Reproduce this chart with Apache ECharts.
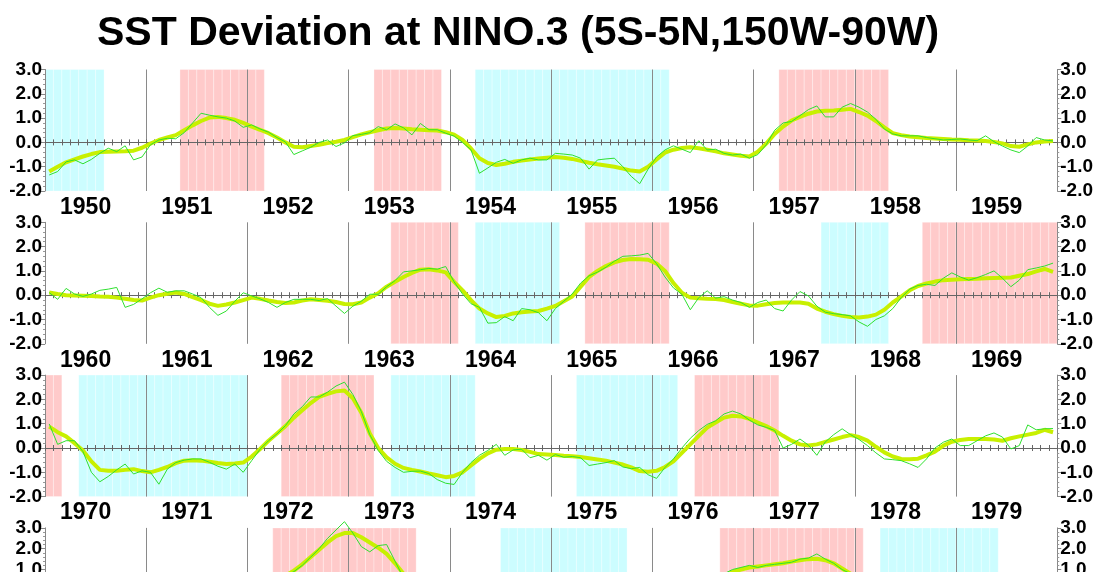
<!DOCTYPE html>
<html>
<head>
<meta charset="utf-8">
<script src="https://cdn.jsdelivr.net/npm/echarts@6/dist/echarts.min.js"></script>
<style>
  html, body { margin: 0; background: #fff; overflow: hidden; }
  #chart { width: 1096px; height: 660px; }
</style>
</head>
<body>
<div id="chart"></div>
<script>
// monthly NINO.3 SST deviation, one row = one year
const sst1950s = [
  -1.34, -1.2, -0.8, -0.72, -0.88, -0.7, -0.45, -0.24, -0.38, -0.14, -0.72, -0.6,
  -0.1, 0.1, 0.17, 0.15, 0.4, 0.8, 1.2, 1.12, 1.05, 1.0, 0.88, 0.62,
  0.72, 0.55, 0.42, 0.2, 0.02, -0.5, -0.35, -0.2, 0.0, 0.1, -0.17, -0.02,
  0.28, 0.33, 0.4, 0.65, 0.52, 0.76, 0.6, 0.31, 0.78, 0.52, 0.52, 0.38,
  0.26, 0.0, -0.3, -1.27, -1.05, -0.82, -0.7, -0.86, -0.72, -0.65, -0.72, -0.72,
  -0.45, -0.48, -0.52, -0.65, -1.1, -0.72, -0.68, -0.65, -1.0, -1.4, -1.7, -1.1,
  -0.6, -0.31, -0.14, -0.28, -0.42, 0.07, -0.31, -0.28, -0.45, -0.52, -0.48, -0.65,
  -0.5, -0.1, 0.5, 0.8, 0.86, 1.1, 1.35, 1.5, 1.05, 1.05, 1.45, 1.6,
  1.45, 1.25, 0.95, 0.55, 0.35, 0.27, 0.27, 0.27, 0.2, 0.15, 0.1, 0.12,
  0.14, 0.1, 0.07, 0.27, 0.03, -0.15, -0.31, -0.42, -0.15, 0.2, 0.1, 0.06
];
const smooth1950s = [
  -1.2, -1.0, -0.82, -0.7, -0.58, -0.48, -0.4, -0.38, -0.37, -0.36, -0.34, -0.22,
  -0.05, 0.1, 0.2, 0.3, 0.5, 0.7, 0.88, 1.02, 1.05, 1.0, 0.93, 0.8,
  0.65, 0.52, 0.38, 0.2, 0.0, -0.18, -0.2, -0.15, -0.1, -0.03, 0.03, 0.1,
  0.22, 0.33, 0.42, 0.5, 0.57, 0.59, 0.57, 0.54, 0.52, 0.5, 0.49, 0.42,
  0.32, 0.1, -0.25, -0.65, -0.85, -0.93, -0.88, -0.8, -0.75, -0.7, -0.66, -0.63,
  -0.6, -0.63, -0.68, -0.76, -0.84, -0.9, -0.95, -1.0, -1.08, -1.16, -1.2, -1.0,
  -0.7, -0.42, -0.3, -0.23, -0.2, -0.24, -0.3, -0.37, -0.45, -0.5, -0.55, -0.58,
  -0.38, -0.05, 0.35, 0.65, 0.9, 1.05, 1.18, 1.27, 1.3, 1.31, 1.34, 1.38,
  1.25, 1.1, 0.88, 0.62, 0.38, 0.3, 0.24, 0.21, 0.18, 0.16, 0.14, 0.12,
  0.11, 0.09, 0.08, 0.06, 0.02, -0.04, -0.15, -0.18, -0.08, 0.0, 0.04, 0.06
];
const sst1960s = [
  0.11, -0.17, 0.28, 0.05, -0.05, 0.05, 0.2, 0.25, 0.32, -0.5, -0.38, -0.15,
  0.1, 0.29, 0.12, 0.18, 0.18, 0.05, -0.1, -0.5, -0.83, -0.65, -0.25, 0.1,
  -0.03, -0.15, -0.3, -0.5, -0.3, -0.17, -0.17, -0.17, -0.22, -0.14, -0.45, -0.75,
  -0.45, -0.25, 0.04, 0.04, 0.35, 0.6, 0.96, 1.0, 1.05, 1.1, 1.07, 1.18,
  0.55, 0.05, -0.35, -0.5, -1.15, -1.13, -0.88, -1.05, -0.55, -0.6, -0.72, -1.05,
  -0.55, -0.25, 0.05, 0.5, 0.8, 0.95, 1.15, 1.4, 1.6, 1.62, 1.65, 1.72,
  1.3, 0.75, 0.3, 0.04, -0.6, -0.1, 0.18, -0.12, -0.06, -0.2, -0.3, -0.5,
  -0.3, -0.2, -0.55, -0.65, -0.2, 0.15, -0.03, -0.45, -0.7, -0.76, -0.8, -0.85,
  -1.1, -1.28, -1.0, -0.85, -0.55, -0.1, 0.25, 0.4, 0.45, 0.4, 0.7, 0.92,
  0.75, 0.62, 0.72, 0.85, 1.0, 0.7, 0.35, 0.62, 1.05, 1.12, 1.2, 1.32
];
const smooth1960s = [
  0.11, 0.05, 0.0, -0.01, -0.02, -0.03, -0.05, -0.06, -0.1, -0.15, -0.2, -0.22,
  -0.1, 0.0, 0.06, 0.11, 0.05, -0.08, -0.2, -0.35, -0.44, -0.38, -0.3, -0.2,
  -0.1, -0.15, -0.22, -0.28, -0.32, -0.3, -0.22, -0.17, -0.2, -0.23, -0.28, -0.36,
  -0.37, -0.3, -0.1, 0.08, 0.35, 0.55, 0.75, 0.92, 1.05, 1.07, 1.02, 0.94,
  0.55, 0.2, -0.2, -0.55, -0.75, -0.9, -0.85, -0.75, -0.7, -0.67, -0.65, -0.55,
  -0.44, -0.25, -0.05, 0.35, 0.75, 1.0, 1.2, 1.35, 1.45, 1.49, 1.48, 1.46,
  1.3, 1.0, 0.5, 0.1, -0.1, -0.13, -0.15, -0.16, -0.2, -0.28, -0.35, -0.42,
  -0.43, -0.37, -0.32, -0.3, -0.3, -0.3, -0.35, -0.55, -0.68, -0.78, -0.85, -0.9,
  -0.92, -0.88, -0.8, -0.6, -0.3, -0.06, 0.2, 0.38, 0.48, 0.56, 0.62, 0.64,
  0.66, 0.67, 0.68, 0.7, 0.71, 0.72, 0.73, 0.8, 0.87, 0.98, 1.08, 0.96
];
const sst1970s = [
  0.99, 0.15, 0.3, 0.3, -0.15, -1.0, -1.39, -1.17, -0.9, -0.66, -1.07, -0.94,
  -1.0, -1.49, -0.87, -0.6, -0.5, -0.45, -0.45, -0.59, -0.75, -0.87, -0.66, -1.0,
  -0.52, -0.05, 0.3, 0.58, 0.92, 1.4, 1.7, 2.1, 2.1, 2.3, 2.55, 2.71,
  2.2, 1.5, 0.55, -0.1, -0.55, -0.8, -1.0, -0.96, -0.95, -1.05, -1.3, -1.45,
  -1.5, -1.0, -0.6, -0.3, -0.1, 0.15, -0.3, -0.08, -0.05, -0.4, -0.3, -0.5,
  -0.27, -0.38, -0.35, -0.4, -0.72, -0.66, -0.6, -0.52, -0.78, -0.85, -0.8, -1.1,
  -1.25, -0.8, -0.45, 0.0, 0.4, 0.72, 0.97, 1.12, 1.4, 1.52, 1.4, 1.15,
  0.95, 0.85, 0.72, 0.0, 0.15, 0.37, 0.12, -0.3, 0.25, 0.55, 0.79, 0.55,
  0.35, 0.1, -0.2, -0.45, -0.48, -0.52, -0.65, -0.8, -0.45, 0.0, 0.24, 0.37,
  0.1, 0.1, 0.3, 0.5, 0.62, 0.45, -0.04, 0.1, 0.95, 0.75, 0.79, 0.8
];
const smooth1970s = [
  0.88, 0.65, 0.48, 0.2, -0.1, -0.55, -0.9, -0.94, -0.94, -0.9, -0.87, -0.95,
  -1.0, -0.9, -0.78, -0.62, -0.52, -0.5, -0.52, -0.57, -0.62, -0.66, -0.64, -0.6,
  -0.35, -0.04, 0.3, 0.6, 0.9, 1.25, 1.55, 1.85, 2.1, 2.23, 2.33, 2.37,
  2.05, 1.45, 0.6, 0.0, -0.38, -0.65, -0.82, -0.9, -0.97, -1.05, -1.12, -1.2,
  -1.15, -1.0, -0.72, -0.45, -0.22, -0.07, -0.04, -0.04, -0.08, -0.16, -0.25, -0.27,
  -0.29, -0.32, -0.34, -0.37, -0.42, -0.47, -0.52, -0.6, -0.68, -0.8, -0.95, -0.98,
  -0.94, -0.78, -0.55, -0.2, 0.15, 0.5, 0.84, 1.05, 1.25, 1.33, 1.3, 1.2,
  1.05, 0.9, 0.72, 0.5, 0.3, 0.15, 0.1, 0.15, 0.25, 0.35, 0.45, 0.53,
  0.45, 0.3, 0.05, -0.18, -0.35, -0.45, -0.46, -0.44, -0.3, -0.15, 0.1, 0.26,
  0.33, 0.37, 0.37, 0.37, 0.35, 0.3, 0.4, 0.48, 0.55, 0.62, 0.75, 0.65
];
const sst1980s = [
  0.3, 0.2, 0.1, 0.2, 0.4, 0.5, 0.3, 0.1, 0.0, 0.1, 0.2, 0.1,
  -0.2, -0.4, -0.3, -0.2, -0.3, -0.4, -0.5, -0.3, -0.2, -0.1, -0.2, -0.1,
  0.0, 0.1, 0.2, 0.4, 0.7, 0.9, 1.2, 1.6, 2.0, 2.5, 2.9, 3.3,
  2.75, 2.1, 1.85, 2.15, 2.2, 1.4, 0.6, 0.2, -0.2, -0.4, -0.5, -0.6,
  -0.4, -0.2, 0.0, -0.1, -0.2, -0.3, -0.4, -0.3, -0.5, -0.8, -0.9, -1.0,
  -0.9, -0.8, -0.6, -0.7, -0.5, -0.6, -0.7, -0.5, -0.4, -0.3, -0.4, -0.2,
  -0.3, -0.2, -0.4, -0.1, 0.0, 0.2, 0.4, 0.6, 0.8, 1.0, 1.1, 1.2,
  1.1, 1.2, 1.25, 1.3, 1.35, 1.5, 1.55, 1.75, 1.5, 1.3, 1.0, 0.8,
  0.5, 0.2, -0.2, -0.6, -1.0, -1.2, -1.4, -1.3, -1.2, -1.5, -1.6, -1.5,
  -1.2, -0.9, -0.6, -0.4, -0.2, -0.3, -0.4, -0.3, -0.2, -0.1, 0.0, 0.0
];
const smooth1980s = [
  0.25, 0.22, 0.2, 0.25, 0.3, 0.32, 0.28, 0.2, 0.12, 0.1, 0.08, 0.02,
  -0.1, -0.2, -0.25, -0.28, -0.3, -0.32, -0.3, -0.25, -0.2, -0.15, -0.12, -0.08,
  0.0, 0.1, 0.25, 0.45, 0.7, 0.95, 1.25, 1.6, 1.95, 2.3, 2.6, 2.75,
  2.75, 2.55, 2.3, 2.05, 1.75, 1.3, 0.8, 0.35, 0.0, -0.25, -0.4, -0.45,
  -0.4, -0.3, -0.2, -0.18, -0.22, -0.28, -0.35, -0.45, -0.6, -0.75, -0.85, -0.88,
  -0.85, -0.78, -0.7, -0.65, -0.62, -0.6, -0.58, -0.5, -0.42, -0.35, -0.3, -0.28,
  -0.27, -0.25, -0.22, -0.15, -0.05, 0.12, 0.3, 0.5, 0.7, 0.88, 1.0, 1.1,
  1.15, 1.2, 1.25, 1.3, 1.38, 1.45, 1.5, 1.52, 1.45, 1.3, 1.05, 0.8,
  0.45, 0.1, -0.25, -0.6, -0.9, -1.15, -1.3, -1.35, -1.38, -1.45, -1.45, -1.35,
  -1.15, -0.9, -0.65, -0.45, -0.32, -0.28, -0.3, -0.28, -0.22, -0.12, -0.05, 0.0
];

// shaded periods, [first month, month after last] counted from January of the decade
const warm1950s = [[16, 26], [39, 47], [87, 100]];
const cold1950s = [[0, 7], [51, 74]];
const warm1960s = [[41, 49], [64, 74], [104, 120]];
const cold1960s = [[51, 61], [92, 100]];
const warm1970s = [[0, 2], [28, 39], [77, 87]];
const cold1970s = [[4, 24], [41, 51], [63, 75]];
const warm1980s = [[27, 44], [80, 97]];
const cold1980s = [[54, 69], [99, 113]];

const years1950s = ['1950', '1951', '1952', '1953', '1954', '1955', '1956', '1957', '1958', '1959'];
const years1960s = ['1960', '1961', '1962', '1963', '1964', '1965', '1966', '1967', '1968', '1969'];
const years1970s = ['1970', '1971', '1972', '1973', '1974', '1975', '1976', '1977', '1978', '1979'];
const years1980s = ['1980', '1981', '1982', '1983', '1984', '1985', '1986', '1987', '1988', '1989'];

const panels = [
  { years: years1950s, sst: sst1950s, smooth: smooth1950s, warm: warm1950s, cold: cold1950s },
  { years: years1960s, sst: sst1960s, smooth: smooth1960s, warm: warm1960s, cold: cold1960s },
  { years: years1970s, sst: sst1970s, smooth: smooth1970s, warm: warm1970s, cold: cold1970s },
  { years: years1980s, sst: sst1980s, smooth: smooth1980s, warm: warm1980s, cold: cold1980s }
];

const font = '"Liberation Sans", Arial, Helvetica, sans-serif';
const axisGray = '#666';

// one box per month so the faint month seams show
function monthBoxes(periods, color) {
  const out = [];
  periods.forEach(([s, e]) => {
    for (let m = s; m < e; m++) {
      out.push([
        { xAxis: m, itemStyle: { color: color, borderColor: 'rgba(255,255,255,0.3)', borderWidth: 1 } },
        { xAxis: m + 1 }
      ]);
    }
  });
  return out;
}

function toPoints(values) {
  return values.map((v, m) => [m + 0.5, v]);
}

const grid = [], xAxis = [], yAxis = [], series = [];

panels.forEach((p, i) => {
  grid.push({ left: 45, right: 33, top: 69.5 + 152.8 * i, height: 121.5 });

  // zero line with month ticks pointing down, year lines
  xAxis.push({
    gridIndex: i, type: 'value', min: 0, max: 120, interval: 12, position: 'bottom', z: 2,
    axisLine: { onZero: true, lineStyle: { color: axisGray, width: 1 } },
    axisTick: { length: 3, lineStyle: { color: axisGray } },
    minorTick: { show: true, splitNumber: 12, length: 3, lineStyle: { color: axisGray } },
    axisLabel: { show: false },
    splitLine: { show: true, lineStyle: { color: '#8a8a8a', width: 1 } }
  });
  // same ticks pointing up
  xAxis.push({
    gridIndex: i, type: 'value', min: 0, max: 120, interval: 12, position: 'bottom', z: 2,
    axisLine: { onZero: true, lineStyle: { color: axisGray } },
    axisTick: { inside: true, length: 3, lineStyle: { color: axisGray } },
    minorTick: { show: true, splitNumber: 12, length: 3, lineStyle: { color: axisGray } },
    axisLabel: { show: false },
    splitLine: { show: false }
  });
  // year labels under the panel
  xAxis.push({
    gridIndex: i, type: 'category', data: p.years, position: 'bottom',
    axisLine: { show: false, onZero: false },
    axisTick: { show: false },
    splitLine: { show: false },
    axisLabel: {
      interval: 0, margin: 5, padding: [0, 20, 0, 0],
      fontSize: 23, fontWeight: 'bold', color: '#000', fontFamily: font
    }
  });

  ['left', 'right'].forEach(side => {
    yAxis.push({
      gridIndex: i, type: 'value', position: side, min: -2, max: 3, interval: 1, z: 2,
      axisLine: { show: true, onZero: false, lineStyle: { color: '#888' } },
      axisTick: { show: true, length: 4, lineStyle: { color: '#888' } },
      minorTick: { show: true, splitNumber: 5, length: 2, lineStyle: { color: '#999' } },
      splitLine: { show: false },
      axisLabel: {
        margin: 3, fontSize: 19, fontWeight: 'bold', color: '#000', fontFamily: font,
        formatter: v => v.toFixed(1)
      }
    });
  });

  const xi = i * 3, yi = i * 2;
  series.push({
    type: 'line', xAxisIndex: xi, yAxisIndex: yi, data: [], z: 1, silent: true,
    markArea: {
      silent: true,
      data: monthBoxes(p.warm, '#ffcaca').concat(monthBoxes(p.cold, '#ccfdff'))
    }
  });
  series.push({
    type: 'line', xAxisIndex: xi, yAxisIndex: yi, data: toPoints(p.smooth), z: 3,
    showSymbol: false, lineStyle: { color: '#c8f000', width: 4 }
  });
  // the 1982 peak pokes above the panel top, so no clipping
  series.push({
    type: 'line', xAxisIndex: xi, yAxisIndex: yi, data: toPoints(p.sst), z: 4, clip: false,
    showSymbol: false, lineStyle: { color: '#2fe02f', width: 1 }
  });
});

const chart = echarts.init(document.getElementById('chart'), null, { renderer: 'canvas' });
chart.setOption({
  animation: false,
  title: {
    text: 'SST Deviation at NINO.3 (5S-5N,150W-90W)',
    left: 92, top: 8,
    textStyle: { fontSize: 41, fontWeight: 'bold', color: '#000', fontFamily: font }
  },
  grid: grid,
  xAxis: xAxis,
  yAxis: yAxis,
  series: series
});
</script>
</body>
</html>
